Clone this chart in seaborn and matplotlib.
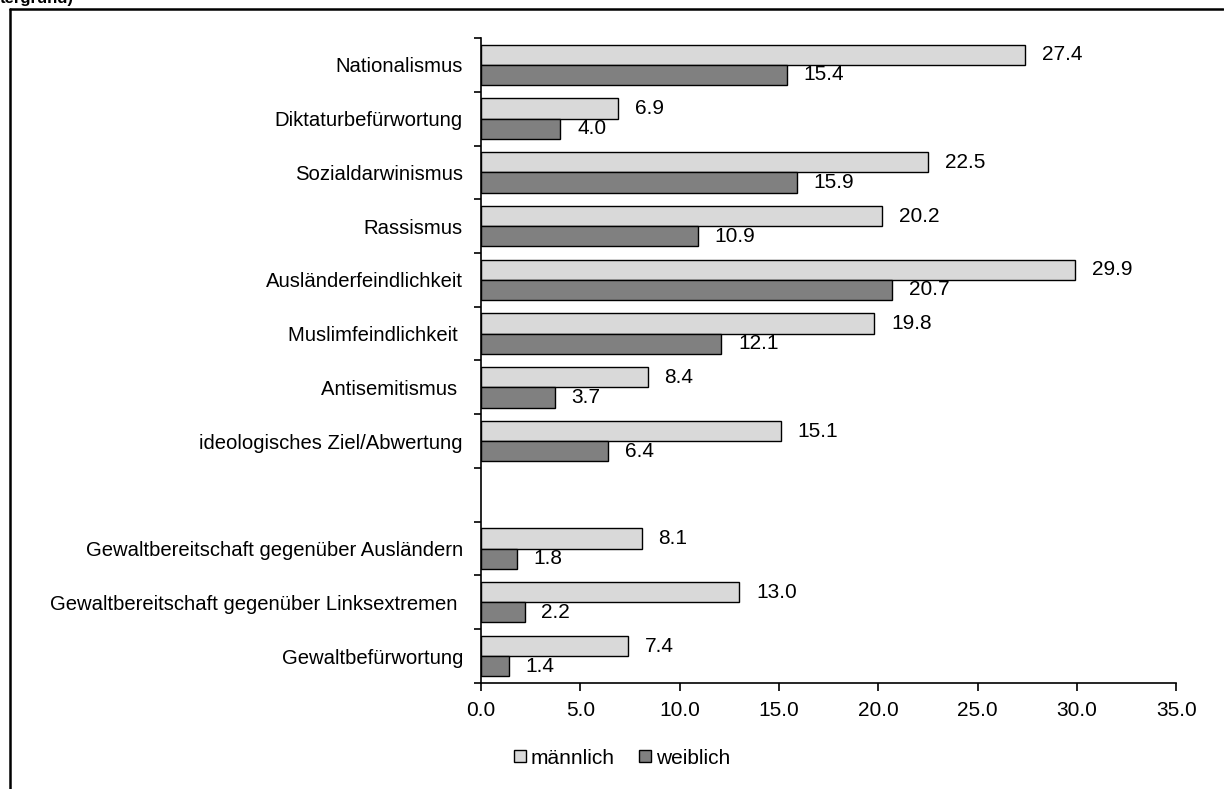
import matplotlib
matplotlib.use('Agg')
import matplotlib.pyplot as plt
import seaborn as sns
import numpy as np
import pandas as pd
from matplotlib.lines import Line2D

# Data
categories = ['Nationalismus', 'Diktaturbefürwortung', 'Sozialdarwinismus', 'Rassismus',
              'Ausländerfeindlichkeit', 'Muslimfeindlichkeit ', 'Antisemitismus ',
              'ideologisches Ziel/Abwertung', ' ',
              'Gewaltbereitschaft gegenüber Ausländern',
              'Gewaltbereitschaft gegenüber Linksextremen ', 'Gewaltbefürwortung']
maennlich = [27.4, 6.9, 22.5, 20.2, 29.9, 19.8, 8.4, 15.1, np.nan, 8.1, 13.0, 7.4]
weiblich = [15.4, 4.0, 15.9, 10.9, 20.7, 12.1, 3.7, 6.4, np.nan, 1.8, 2.2, 1.4]
groups = ['männlich', 'weiblich']
colors = ['#d9d9d9', '#808080']

df = pd.DataFrame({
    'kategorie': categories * 2,
    'gruppe': [groups[0]] * len(categories) + [groups[1]] * len(categories),
    'wert': maennlich + weiblich,
}).dropna()

sns.set_style('white')
plt.rcParams['font.family'] = ['Liberation Sans', 'DejaVu Sans']
plt.rcParams['text.color'] = 'black'
plt.rcParams['xtick.color'] = 'black'
plt.rcParams['ytick.color'] = 'black'

fs = 15
fig = plt.figure(figsize=(12.24, 7.89), dpi=100)
ax = fig.add_axes([0.393, 0.1344, 0.568, 0.8174])

sns.barplot(data=df, x='wert', y='kategorie', hue='gruppe', order=categories,
            hue_order=groups, palette=colors, width=0.75, orient='h',
            edgecolor='black', linewidth=1, ax=ax, legend=False)

for cont in ax.containers:
    ax.bar_label(cont, fmt='%.1f', padding=12, fontsize=fs)

ax.set_xlim(0, 35)
ax.set_xticks(np.arange(0, 36, 5))
ax.set_xticklabels(['%.1f' % v for v in np.arange(0, 36, 5)], fontsize=fs)
ax.set_ylim(len(categories) - 0.5, -0.5)
ax.set_yticks(range(len(categories)))
ax.set_yticklabels(categories, fontsize=14.6)
ax.set_yticks(np.arange(-0.5, len(categories), 1), minor=True)
ax.tick_params(axis='y', which='major', length=0, pad=13)
ax.tick_params(axis='y', which='minor', length=5, width=1.2, direction='out', left=True)
ax.tick_params(axis='x', length=6, width=1.2, direction='out', bottom=True, pad=7)
ax.set_xlabel('')
ax.set_ylabel('')
sns.despine(ax=ax)
for s in ['left', 'bottom']:
    ax.spines[s].set_color('black')
    ax.spines[s].set_linewidth(1.2)

# legend below the plot
handles = [Line2D([], [], marker='s', linestyle='', markersize=8, markerfacecolor=c,
                  markeredgecolor='black', markeredgewidth=1) for c in colors]
fig.legend(handles, groups, loc='center', bbox_to_anchor=(0.508, 0.039), ncol=2,
           frameon=False, fontsize=fs, handlelength=0.6, handletextpad=0.2,
           columnspacing=1.2)

# outer frame (cut off by the image edge) and clipped heading
fig.add_artist(Line2D([10 / 1224, 10 / 1224], [0, 1 - 9 / 789], transform=fig.transFigure,
                      color='black', linewidth=1.8))
fig.add_artist(Line2D([10 / 1224, 1223 / 1224], [1 - 9 / 789, 1 - 9 / 789],
                      transform=fig.transFigure, color='black', linewidth=1.8))
fig.text(0.0, 1 - 3 / 789, 'tergrund)', fontsize=12, fontweight='bold', va='baseline', ha='left')

fig.savefig('out.png', dpi=100)
